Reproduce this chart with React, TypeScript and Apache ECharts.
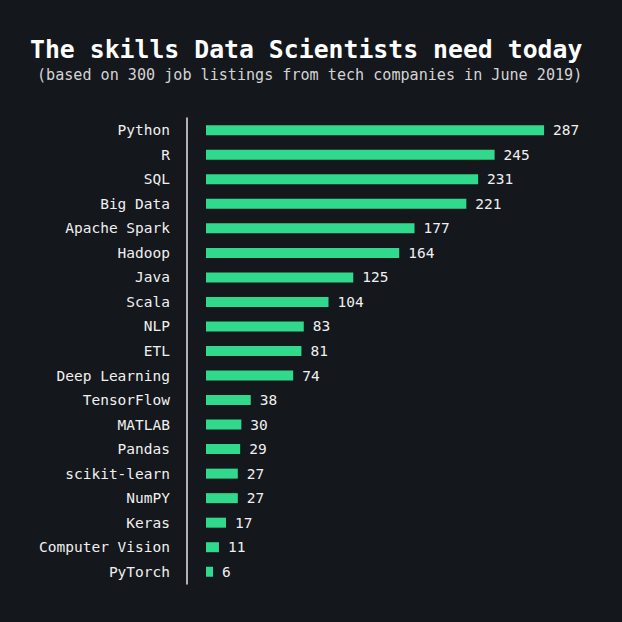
import React, { useEffect, useRef } from "react";
import * as echarts from "echarts";

const skills = [
  "Python", "R", "SQL", "Big Data", "Apache Spark", "Hadoop", "Java", "Scala", "NLP", "ETL",
  "Deep Learning", "TensorFlow", "MATLAB", "Pandas", "scikit-learn", "NumPY", "Keras",
  "Computer Vision", "PyTorch",
];
const counts = [287, 245, 231, 221, 177, 164, 125, 104, 83, 81, 74, 38, 30, 29, 27, 27, 17, 11, 6];

const titleText = "The skills Data Scientists need today";
const subtitleText = "(based on 300 job listings from tech companies in June 2019)";

const MONO = "'DejaVu Sans Mono', 'Liberation Mono', monospace";

export default function App() {
  const ref = useRef<HTMLDivElement>(null);
  useEffect(() => {
    if (!ref.current) return;
    const chart = echarts.init(ref.current, undefined, { renderer: "svg" });
    chart.setOption({
      animation: false,
      backgroundColor: "#14171c",
      title: [
        {
          text: titleText,
          left: 25,
          top: 32,
          textStyle: { color: "#ffffff", fontFamily: MONO, fontWeight: "bold", fontSize: 24.8 },
        },
        {
          text: subtitleText,
          left: 32,
          top: 62,
          textStyle: { color: "#d4d4d4", fontFamily: MONO, fontWeight: "normal", fontSize: 15.1 },
        },
      ],
      grid: { left: 206, top: 118, width: 353.4, height: 466 },
      xAxis: { type: "value", min: 0, max: 300, show: false },
      yAxis: {
        type: "category",
        data: skills,
        inverse: true,
        offset: 19,
        axisLine: { show: true, onZero: false, lineStyle: { color: "#e8e8e8", width: 1.5 } },
        axisTick: { show: false },
        splitLine: { show: false },
        axisLabel: { color: "#f0f0f0", fontFamily: MONO, fontSize: 14.5, margin: 17 },
      },
      series: [
        {
          type: "bar",
          data: counts,
          barWidth: 10,
          itemStyle: { color: "#30d98b" },
          label: {
            show: true,
            position: "right",
            distance: 9,
            color: "#f0f0f0",
            fontFamily: MONO,
            fontSize: 14.5,
          },
        },
      ],
    });
    return () => chart.dispose();
  }, []);
  return (
    <div
      ref={ref}
      style={{ position: "fixed", left: 0, top: 0, width: 622, height: 622 }}
    />
  );
}
